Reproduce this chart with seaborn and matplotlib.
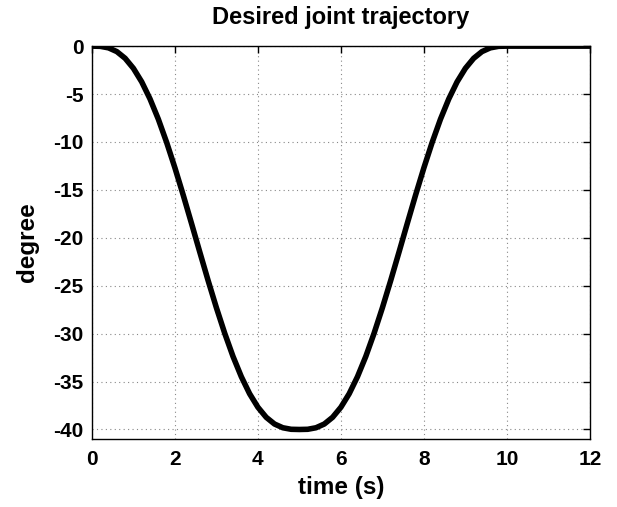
import numpy as np
import pandas as pd
import matplotlib
matplotlib.use("Agg")
import matplotlib.pyplot as plt
import seaborn as sns

# time samples (s)
time_s = [round(i * 0.2, 1) for i in range(61)]
# joint angle (degree)
degree = [0, -0.02, -0.18, -0.57, -1.27, -2.32, -3.73, -5.51, -7.62, -10.04,
          -12.70, -15.54, -18.50, -21.50, -24.46, -27.30, -29.96, -32.38, -34.49, -36.27,
          -37.68, -38.73, -39.43, -39.82, -39.98, -40.0,
          -39.98, -39.82, -39.43, -38.73, -37.68, -36.27, -34.49, -32.38, -29.96,
          -27.30, -24.46, -21.50, -18.50, -15.54, -12.70, -10.04, -7.62, -5.51,
          -3.73, -2.32, -1.27, -0.57, -0.18, -0.02, 0,
          0, 0, 0, 0, 0, 0, 0, 0, 0, 0]
x_ticks = [0, 2, 4, 6, 8, 10, 12]
y_ticks = [0, -5, -10, -15, -20, -25, -30, -35, -40]

sns.set_style("white")
plt.rcParams['font.family'] = ['Liberation Sans', 'DejaVu Sans']
plt.rcParams['font.weight'] = 'bold'
plt.rcParams['text.color'] = 'black'
plt.rcParams['axes.labelcolor'] = 'black'
plt.rcParams['xtick.color'] = 'black'
plt.rcParams['ytick.color'] = 'black'

df = pd.DataFrame({"time": time_s, "degree": degree})

fig = plt.figure(figsize=(6.17, 5.07), dpi=100)
ax = fig.add_axes([0.149, 0.134, 0.807, 0.775])
sns.lineplot(data=df, x="time", y="degree", ax=ax, color="black", linewidth=4.0)
for ln in ax.get_lines():
    ln.set_solid_joinstyle('round')

ax.set_xlim(0, 12)
ax.set_ylim(-41, 0)
ax.set_xticks(x_ticks)
ax.set_yticks(y_ticks)
ax.set_xticklabels([str(v) for v in x_ticks], fontsize=15, fontweight='bold')
ax.set_yticklabels([str(v) for v in y_ticks], fontsize=15, fontweight='bold')
ax.tick_params(direction='in', length=5, width=1, top=True, right=True)
ax.tick_params(axis='x', pad=8)
ax.tick_params(axis='y', pad=6)
ax.grid(True, linestyle=(0, (1, 3)), color='#888888', linewidth=0.8)
for s in ax.spines.values():
    s.set_color('black')
    s.set_linewidth(1.0)
    s.set_visible(True)

ax.set_xlabel("time (s)", fontsize=17.5, fontweight='bold', labelpad=5)
ax.set_ylabel("degree", fontsize=17.5, fontweight='bold', labelpad=10)
ax.set_title("Desired joint trajectory", fontsize=17, fontweight='bold', pad=16)

fig.savefig("out.png", dpi=100)
